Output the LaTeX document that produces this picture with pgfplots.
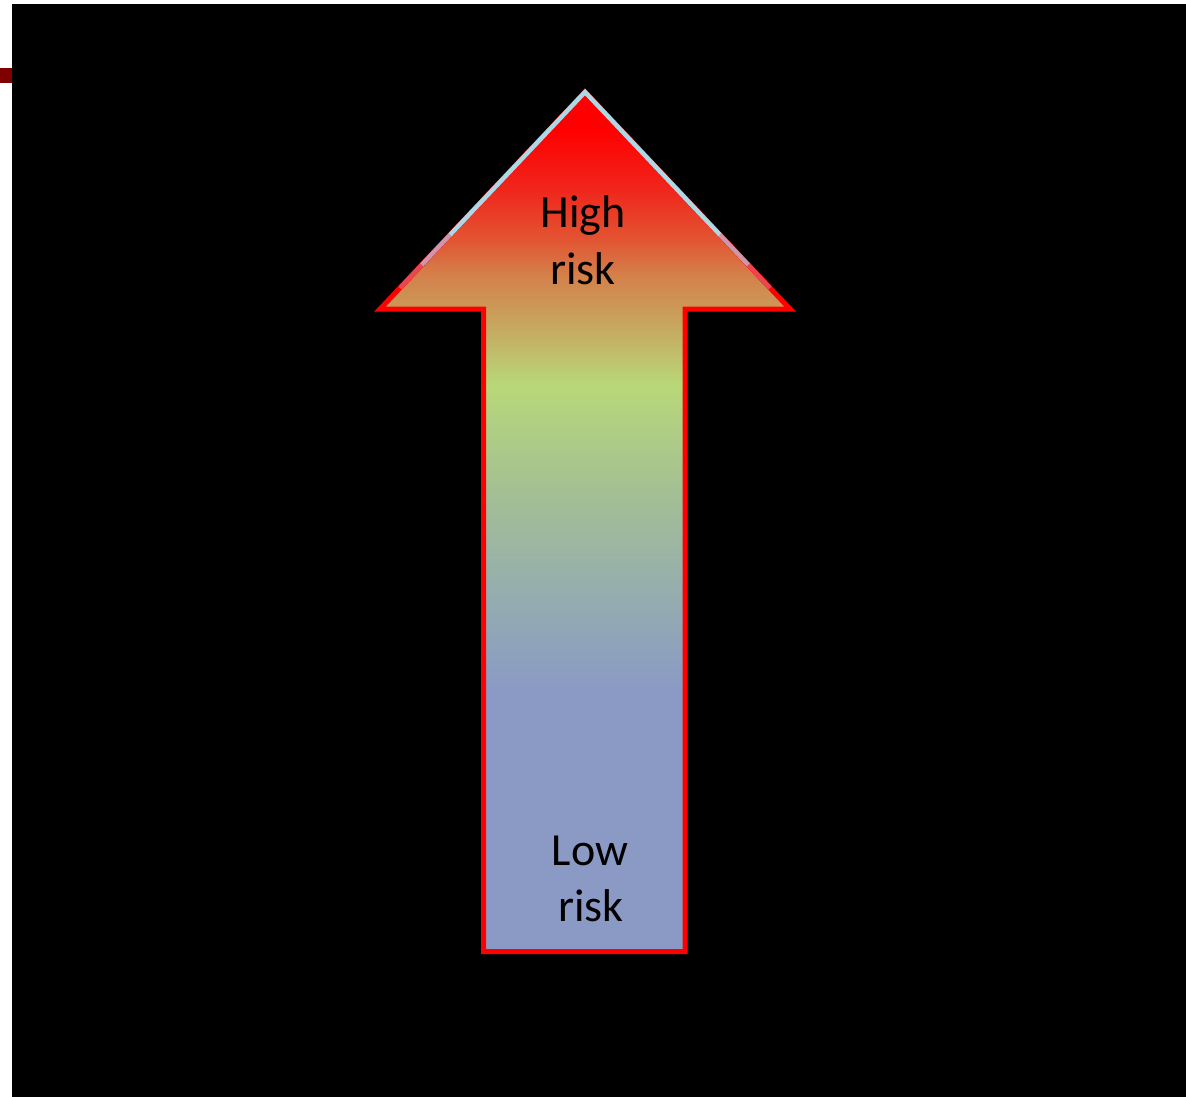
\documentclass[border=0pt]{standalone}
\usepackage{pgfplots}
\pgfplotsset{compat=1.18}
\usepackage{fontspec}
\setmainfont{Carlito}
\definecolor{cRed}{RGB}{255,0,0}
\definecolor{c190}{RGB}{240,38,28}
\definecolor{c240}{RGB}{226,85,50}
\definecolor{c275}{RGB}{212,128,75}
\definecolor{c320}{RGB}{200,162,92}
\definecolor{c385}{RGB}{184,216,120}
\definecolor{c500}{RGB}{162,190,150}
\definecolor{c600}{RGB}{148,172,176}
\definecolor{cLow}{RGB}{138,154,196}
\definecolor{edgeblue}{RGB}{173,216,230}
\definecolor{edgemix}{RGB}{205,150,170}
\definecolor{edgemix2}{RGB}{235,70,80}
\definecolor{mark}{RGB}{128,0,0}
\pgfdeclareverticalshading{arrowshade}{100bp}{color(0bp)=(cLow); color(40.23bp)=(cLow); color(45.47bp)=(c600); color(51.28bp)=(c500); color(57.97bp)=(c385); color(61.74bp)=(c320); color(64.36bp)=(c275); color(66.40bp)=(c240); color(69.30bp)=(c190); color(72.79bp)=(cRed); color(100bp)=(cRed)}
\begin{document}
\begin{tikzpicture}
\begin{axis}[scale only axis, width=1186pt, height=1097pt,
  xmin=0, xmax=1186, ymin=0, ymax=1097, y dir=reverse,
  hide axis, clip=false]
% white page
\addplot[draw=none, fill=white] coordinates {(0,0) (1186,0) (1186,1097) (0,1097)} -- cycle;
% black panel
\addplot[draw=none, fill=black] coordinates {(12,4) (1186,4) (1186,1097) (12,1097)} -- cycle;
% small mark
\addplot[draw=none, fill=mark] coordinates {(0,68) (12,68) (12,83) (0,83)} -- cycle;
% arrow
\addplot[shading=arrowshade, draw=red, line width=5pt, line join=miter] coordinates {
  (585,92) (790,309) (685,309) (685,951.5) (483.5,951.5) (483.5,309) (380,309)} -- cycle;
% light-blue upper edges
\addplot[edgeblue, line width=4.5pt, line join=miter] coordinates {(449.9,235) (585,92) (720.1,235)};
\addplot[edgemix, line width=4.5pt] coordinates {(449.9,235) (421.6,265)};
\addplot[edgemix, line width=4.5pt] coordinates {(720.1,235) (748.4,265)};
\addplot[edgemix2, line width=4.5pt] coordinates {(421.6,265) (400,288)};
\addplot[edgemix2, line width=4.5pt] coordinates {(748.4,265) (770,288)};
% labels
\node[anchor=base, font=\fontsize{46}{56}\selectfont] at (axis cs:583,227) {High};
\node[anchor=base, font=\fontsize{46}{56}\selectfont] at (axis cs:583,284) {risk};
\node[anchor=base, font=\fontsize{46}{56}\selectfont] at (axis cs:590,865) {Low};
\node[anchor=base, font=\fontsize{46}{56}\selectfont] at (axis cs:591,921.5) {risk};
\end{axis}
\end{tikzpicture}
\end{document}
